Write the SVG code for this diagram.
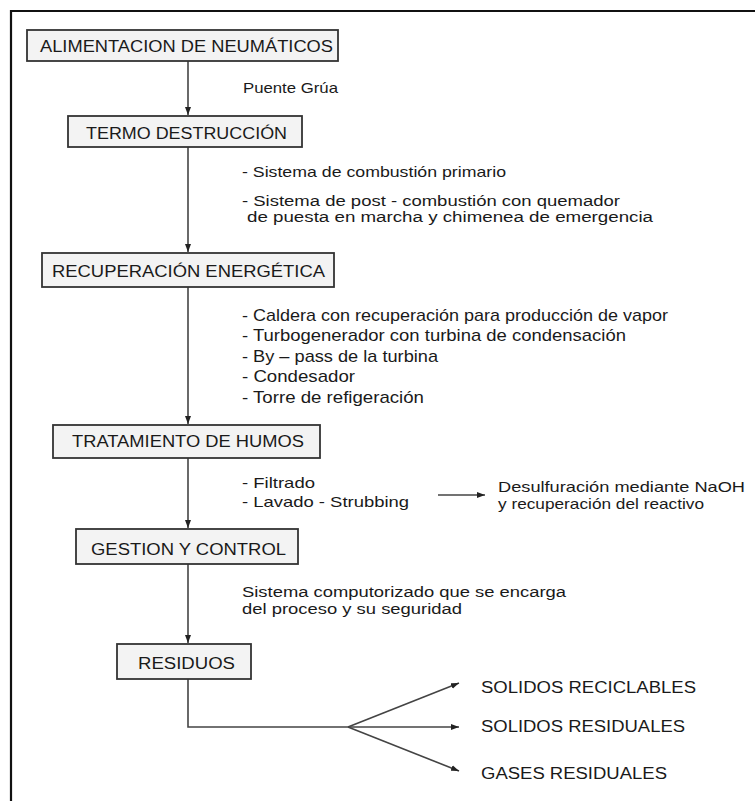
<svg xmlns="http://www.w3.org/2000/svg" width="755" height="801" viewBox="0 0 755 801">
<style>
.bg{fill:#ffffff}
.frame{stroke:#111;stroke-width:2.2;fill:none}
.box{fill:#f3f3f3;stroke:#333;stroke-width:1.8}
.bt{font-family:"Liberation Sans",Arial,sans-serif;font-size:16px;fill:#1a1a1a}
.t{font-family:"Liberation Sans",Arial,sans-serif;font-size:15px;fill:#1a1a1a}
.t2{font-family:"Liberation Sans",Arial,sans-serif;font-size:14px;fill:#1a1a1a}
.tn{font-family:"Liberation Sans",Arial,sans-serif;font-size:17px;fill:#1a1a1a}
.ln{stroke:#444;stroke-width:1.6;fill:none}
.ar{stroke:#444;stroke-width:1.6;fill:none;marker-end:url(#ah)}
</style>
<defs>
<marker id="ah" markerUnits="userSpaceOnUse" markerWidth="9" markerHeight="7" refX="8" refY="3.5" orient="auto">
<path d="M0,0.5 L8,3.5 L0,6.5 z" fill="#222"/>
</marker>
</defs>
<rect class="bg" x="0" y="0" width="755" height="801"/>
<path class="frame" d="M11,801 L11,11 L755,11"/>

<g id="connectors">
<line class="ar" x1="188" y1="61" x2="188" y2="115"/>
<line class="ar" x1="188" y1="147" x2="188" y2="252"/>
<line class="ar" x1="188" y1="287" x2="188" y2="424"/>
<line class="ar" x1="188" y1="458" x2="188" y2="528"/>
<line class="ar" x1="188" y1="564" x2="188" y2="643"/>
<polyline class="ln" points="188,679 188,727 348,727"/>
<line class="ar" x1="348" y1="727" x2="459" y2="683"/>
<line class="ar" x1="348" y1="727" x2="459" y2="727"/>
<line class="ar" x1="348" y1="727" x2="459" y2="771"/>
<line class="ar" x1="438" y1="495" x2="485" y2="495"/>
</g>

<g id="n1">
<rect class="box" x="27" y="30" width="311" height="31"/>
<text class="bt" x="40" y="52" textLength="293" lengthAdjust="spacingAndGlyphs">ALIMENTACION DE NEUMÁTICOS</text>
</g>
<g id="l1">
<text class="t" x="243" y="93" textLength="95" lengthAdjust="spacingAndGlyphs">Puente Grúa</text>
</g>
<g id="n2">
<rect class="box" x="68" y="116" width="234" height="31"/>
<text class="bt" x="86" y="139" textLength="201" lengthAdjust="spacingAndGlyphs">TERMO DESTRUCCIÓN</text>
</g>
<g id="l2">
<text class="t" x="242" y="177" textLength="264" lengthAdjust="spacingAndGlyphs">- Sistema de combustión primario</text>
<text class="t2" x="242" y="206" textLength="378" lengthAdjust="spacingAndGlyphs">- Sistema de post - combustión con quemador</text>
<text class="t2" x="247" y="222" textLength="406" lengthAdjust="spacingAndGlyphs">de puesta en marcha y chimenea de emergencia</text>
</g>
<g id="n3">
<rect class="box" x="42" y="253" width="292" height="34"/>
<text class="bt" x="52" y="277" textLength="273" lengthAdjust="spacingAndGlyphs">RECUPERACIÓN ENERGÉTICA</text>
</g>
<g id="l3">
<text class="tn" x="242" y="321" textLength="426" lengthAdjust="spacingAndGlyphs">- Caldera con recuperación para producción de vapor</text>
<text class="tn" x="242" y="341" textLength="384" lengthAdjust="spacingAndGlyphs">- Turbogenerador con turbina de condensación</text>
<text class="tn" x="242" y="362" textLength="196" lengthAdjust="spacingAndGlyphs">- By – pass de la turbina</text>
<text class="tn" x="242" y="382" textLength="113" lengthAdjust="spacingAndGlyphs">- Condesador</text>
<text class="tn" x="242" y="403" textLength="182" lengthAdjust="spacingAndGlyphs">- Torre de refigeración</text>
</g>
<g id="n4">
<rect class="box" x="53" y="425" width="267" height="33"/>
<text class="bt" x="72" y="447" textLength="232" lengthAdjust="spacingAndGlyphs">TRATAMIENTO DE HUMOS</text>
</g>
<g id="l4">
<text class="t" x="242" y="488" textLength="73" lengthAdjust="spacingAndGlyphs">- Filtrado</text>
<text class="t" x="242" y="507" textLength="167" lengthAdjust="spacingAndGlyphs">- Lavado - Strubbing</text>
<text class="t" x="498" y="492" textLength="247" lengthAdjust="spacingAndGlyphs">Desulfuración mediante NaOH</text>
<text class="t" x="498" y="509" textLength="206" lengthAdjust="spacingAndGlyphs">y recuperación del reactivo</text>
</g>
<g id="n5">
<rect class="box" x="76" y="529" width="222" height="35"/>
<text class="bt" x="91" y="555" textLength="195" lengthAdjust="spacingAndGlyphs">GESTION Y CONTROL</text>
</g>
<g id="l5">
<text class="t2" x="242" y="597" textLength="324" lengthAdjust="spacingAndGlyphs">Sistema computorizado que se encarga</text>
<text class="t2" x="242" y="614" textLength="220" lengthAdjust="spacingAndGlyphs">del proceso y su seguridad</text>
</g>
<g id="n6">
<rect class="box" x="117" y="644" width="134" height="35"/>
<text class="bt" x="138" y="669" textLength="97" lengthAdjust="spacingAndGlyphs">RESIDUOS</text>
</g>
<g id="o1"><text class="bt" x="481" y="693" textLength="215" lengthAdjust="spacingAndGlyphs">SOLIDOS RECICLABLES</text></g>
<g id="o2"><text class="bt" x="481" y="732" textLength="204" lengthAdjust="spacingAndGlyphs">SOLIDOS RESIDUALES</text></g>
<g id="o3"><text class="bt" x="481" y="779" textLength="186" lengthAdjust="spacingAndGlyphs">GASES RESIDUALES</text></g>
</svg>
